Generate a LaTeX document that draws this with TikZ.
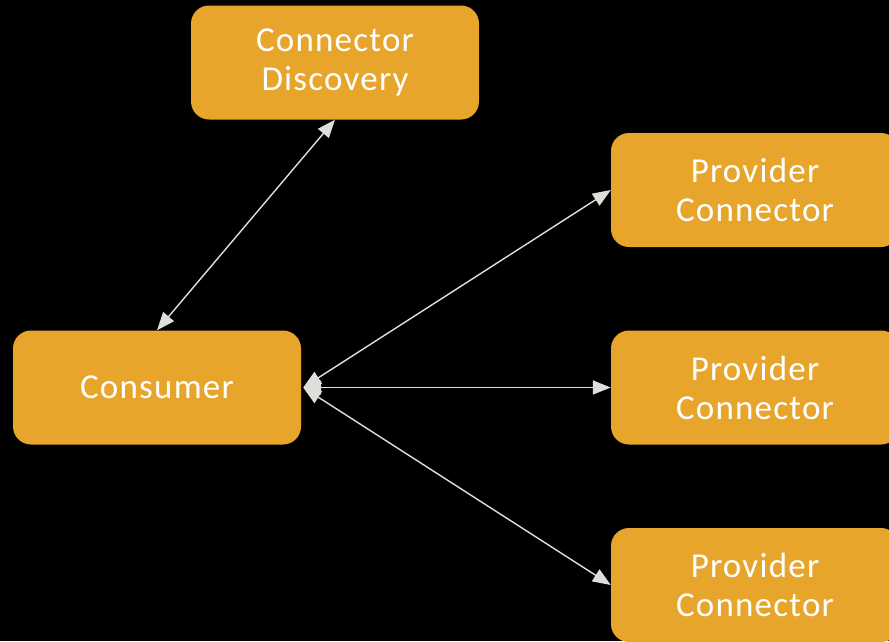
\documentclass[tikz,border=0pt]{standalone}
\usepackage{fontspec}
\setmainfont{Carlito}[LetterSpace=3.5]
\usetikzlibrary{arrows.meta}
\definecolor{boxorange}{HTML}{E8A52B}
\definecolor{linkgray}{HTML}{DDE0DA}
\tikzset{
  block/.style={fill=boxorange, rounded corners=18pt, minimum width=288pt,
    minimum height=114pt, inner sep=0pt, text=white, align=center,
    font=\fontsize{35}{39}\selectfont},
  link/.style={draw=linkgray, line width=1.4pt,
    -{Triangle[length=18pt,width=14pt]}},
  biglink/.style={link, {Triangle[length=18pt,width=14pt]}-{Triangle[length=18pt,width=14pt]}}
}
\begin{document}
\begin{tikzpicture}[x=1pt,y=-1pt]
  \fill[black] (0,0) rectangle (889,641);
  \useasboundingbox (0,0) rectangle (889,641);
  \clip (0,0) rectangle (889,641);
  \node[block] (disc) at (335,62.5) {Connector\\Discovery};
  \node[block] (cons) at (157,387.5) {Consumer};
  \node[block] (p1) at (755,190) {Provider\\Connector};
  \node[block] (p2) at (755,387.5) {Provider\\Connector};
  \node[block] (p3) at (755,585) {Provider\\Connector};
  \draw[biglink] (cons.north) -- (disc.south);
  \draw[biglink] ([xshift=2pt]cons.east) -- (p1.west);
  \draw[biglink] ([xshift=2pt]cons.east) -- (p2.west);
  \draw[biglink] ([xshift=2pt]cons.east) -- (p3.west);
\end{tikzpicture}
\end{document}
